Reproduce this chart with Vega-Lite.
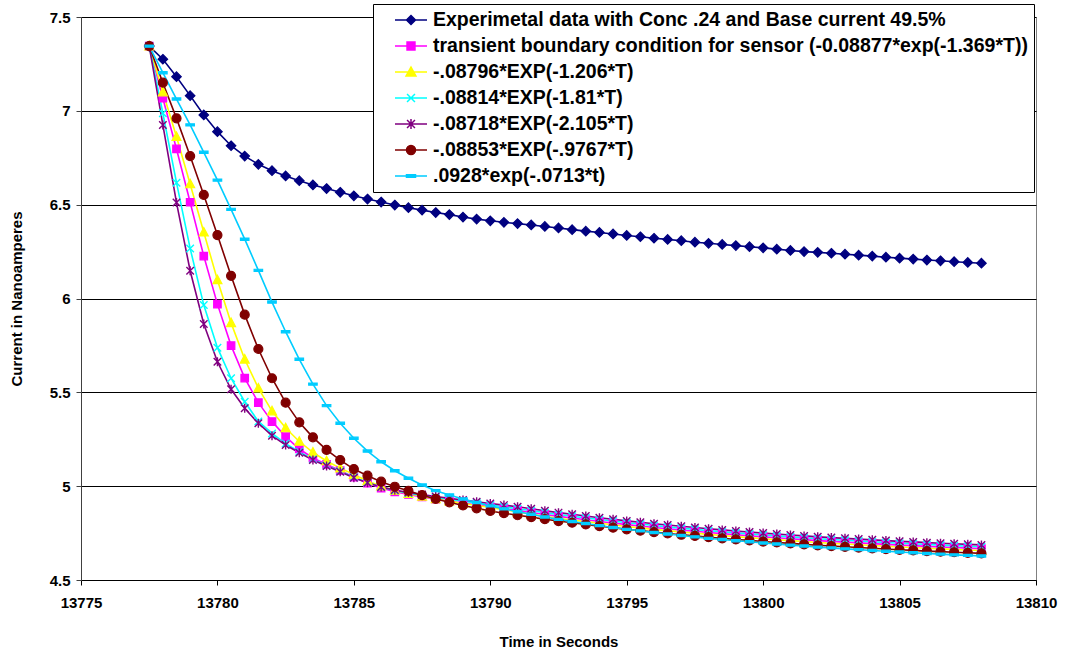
{
"$schema": "https://vega.github.io/schema/vega-lite/v6.json",
"width": 955, "height": 563,
"autosize": {"type": "none"},
"padding": {"left": 81, "top": 17, "right": 34, "bottom": 74},
"background": "white",
"config": {"view": {"stroke": "#808080", "strokeWidth": 1}, "font": "Liberation Sans"},
"data": {"values": [
{"t":13777.5,"a":7.345,"b":7.345,"c":7.345,"d":7.345,"e":7.345,"f":7.345,"g":7.345},
{"t":13778,"a":7.275,"b":7.067,"c":7.100,"d":6.987,"e":6.925,"f":7.150,"g":7.203},
{"t":13778.5,"a":7.182,"b":6.797,"c":6.862,"d":6.617,"e":6.511,"f":6.960,"g":7.063},
{"t":13779,"a":7.081,"b":6.513,"c":6.610,"d":6.267,"e":6.148,"f":6.759,"g":6.925},
{"t":13779.5,"a":6.978,"b":6.226,"c":6.353,"d":5.965,"e":5.864,"f":6.552,"g":6.779},
{"t":13780,"a":6.889,"b":5.970,"c":6.099,"d":5.738,"e":5.663,"f":6.338,"g":6.631},
{"t":13780.5,"a":6.814,"b":5.749,"c":5.870,"d":5.575,"e":5.516,"f":6.121,"g":6.475},
{"t":13781,"a":6.759,"b":5.576,"c":5.676,"d":5.450,"e":5.415,"f":5.914,"g":6.316},
{"t":13781.5,"a":6.715,"b":5.445,"c":5.522,"d":5.345,"e":5.335,"f":5.731,"g":6.150},
{"t":13782,"a":6.681,"b":5.344,"c":5.400,"d":5.281,"e":5.269,"f":5.575,"g":5.981},
{"t":13782.5,"a":6.653,"b":5.264,"c":5.310,"d":5.227,"e":5.219,"f":5.445,"g":5.823},
{"t":13783,"a":6.628,"b":5.198,"c":5.238,"d":5.184,"e":5.178,"f":5.340,"g":5.676},
{"t":13783.5,"a":6.605,"b":5.150,"c":5.180,"d":5.143,"e":5.139,"f":5.260,"g":5.544},
{"t":13784,"a":6.586,"b":5.116,"c":5.134,"d":5.110,"e":5.107,"f":5.193,"g":5.429},
{"t":13784.5,"a":6.566,"b":5.083,"c":5.096,"d":5.079,"e":5.077,"f":5.139,"g":5.335},
{"t":13785,"a":6.547,"b":5.048,"c":5.062,"d":5.047,"e":5.045,"f":5.091,"g":5.255},
{"t":13785.5,"a":6.530,"b":5.016,"c":5.028,"d":5.019,"e":5.018,"f":5.056,"g":5.187},
{"t":13786,"a":6.514,"b":4.990,"c":5.000,"d":4.995,"e":4.996,"f":5.024,"g":5.130},
{"t":13786.5,"a":6.498,"b":4.970,"c":4.977,"d":4.977,"e":4.979,"f":4.997,"g":5.082},
{"t":13787,"a":6.484,"b":4.956,"c":4.960,"d":4.963,"e":4.966,"f":4.975,"g":5.042},
{"t":13787.5,"a":6.471,"b":4.943,"c":4.946,"d":4.951,"e":4.955,"f":4.952,"g":5.006},
{"t":13788,"a":6.458,"b":4.931,"c":4.932,"d":4.940,"e":4.945,"f":4.932,"g":4.976},
{"t":13788.5,"a":6.447,"b":4.920,"c":4.920,"d":4.930,"e":4.935,"f":4.914,"g":4.953},
{"t":13789,"a":6.434,"b":4.910,"c":4.908,"d":4.920,"e":4.926,"f":4.897,"g":4.932},
{"t":13789.5,"a":6.423,"b":4.900,"c":4.897,"d":4.910,"e":4.917,"f":4.882,"g":4.913},
{"t":13790,"a":6.414,"b":4.890,"c":4.886,"d":4.900,"e":4.908,"f":4.868,"g":4.895},
{"t":13790.5,"a":6.406,"b":4.881,"c":4.875,"d":4.890,"e":4.899,"f":4.856,"g":4.879},
{"t":13791,"a":6.399,"b":4.871,"c":4.863,"d":4.880,"e":4.890,"f":4.845,"g":4.864},
{"t":13791.5,"a":6.392,"b":4.860,"c":4.850,"d":4.870,"e":4.880,"f":4.835,"g":4.850},
{"t":13792,"a":6.384,"b":4.849,"c":4.839,"d":4.859,"e":4.869,"f":4.824,"g":4.836},
{"t":13792.5,"a":6.376,"b":4.839,"c":4.829,"d":4.849,"e":4.859,"f":4.814,"g":4.823},
{"t":13793,"a":6.367,"b":4.830,"c":4.820,"d":4.840,"e":4.850,"f":4.805,"g":4.812},
{"t":13793.5,"a":6.359,"b":4.821,"c":4.811,"d":4.831,"e":4.841,"f":4.796,"g":4.801},
{"t":13794,"a":6.352,"b":4.812,"c":4.802,"d":4.822,"e":4.832,"f":4.787,"g":4.790},
{"t":13794.5,"a":6.344,"b":4.804,"c":4.794,"d":4.814,"e":4.824,"f":4.779,"g":4.780},
{"t":13795,"a":6.336,"b":4.795,"c":4.785,"d":4.805,"e":4.815,"f":4.770,"g":4.770},
{"t":13795.5,"a":6.329,"b":4.788,"c":4.778,"d":4.798,"e":4.808,"f":4.763,"g":4.762},
{"t":13796,"a":6.321,"b":4.780,"c":4.770,"d":4.790,"e":4.800,"f":4.755,"g":4.753},
{"t":13796.5,"a":6.315,"b":4.773,"c":4.763,"d":4.783,"e":4.793,"f":4.748,"g":4.745},
{"t":13797,"a":6.308,"b":4.766,"c":4.756,"d":4.776,"e":4.786,"f":4.741,"g":4.737},
{"t":13797.5,"a":6.300,"b":4.760,"c":4.750,"d":4.770,"e":4.780,"f":4.735,"g":4.730},
{"t":13798,"a":6.294,"b":4.753,"c":4.743,"d":4.763,"e":4.773,"f":4.728,"g":4.722},
{"t":13798.5,"a":6.288,"b":4.747,"c":4.737,"d":4.757,"e":4.767,"f":4.722,"g":4.716},
{"t":13799,"a":6.282,"b":4.741,"c":4.731,"d":4.751,"e":4.761,"f":4.716,"g":4.709},
{"t":13799.5,"a":6.276,"b":4.736,"c":4.726,"d":4.746,"e":4.756,"f":4.711,"g":4.704},
{"t":13800,"a":6.270,"b":4.730,"c":4.720,"d":4.740,"e":4.750,"f":4.705,"g":4.697},
{"t":13800.5,"a":6.263,"b":4.725,"c":4.715,"d":4.735,"e":4.745,"f":4.700,"g":4.692},
{"t":13801,"a":6.256,"b":4.720,"c":4.710,"d":4.730,"e":4.740,"f":4.695,"g":4.686},
{"t":13801.5,"a":6.250,"b":4.715,"c":4.705,"d":4.725,"e":4.735,"f":4.690,"g":4.681},
{"t":13802,"a":6.246,"b":4.710,"c":4.700,"d":4.720,"e":4.730,"f":4.685,"g":4.675},
{"t":13802.5,"a":6.241,"b":4.706,"c":4.696,"d":4.716,"e":4.726,"f":4.681,"g":4.671},
{"t":13803,"a":6.236,"b":4.702,"c":4.692,"d":4.712,"e":4.722,"f":4.677,"g":4.666},
{"t":13803.5,"a":6.231,"b":4.698,"c":4.688,"d":4.708,"e":4.718,"f":4.673,"g":4.662},
{"t":13804,"a":6.226,"b":4.694,"c":4.684,"d":4.704,"e":4.714,"f":4.669,"g":4.657},
{"t":13804.5,"a":6.220,"b":4.690,"c":4.680,"d":4.700,"e":4.710,"f":4.665,"g":4.653},
{"t":13805,"a":6.215,"b":4.686,"c":4.676,"d":4.696,"e":4.706,"f":4.661,"g":4.649},
{"t":13805.5,"a":6.210,"b":4.683,"c":4.673,"d":4.693,"e":4.703,"f":4.658,"g":4.645},
{"t":13806,"a":6.205,"b":4.679,"c":4.669,"d":4.689,"e":4.699,"f":4.654,"g":4.641},
{"t":13806.5,"a":6.201,"b":4.676,"c":4.666,"d":4.686,"e":4.696,"f":4.651,"g":4.638},
{"t":13807,"a":6.196,"b":4.673,"c":4.663,"d":4.683,"e":4.693,"f":4.648,"g":4.634},
{"t":13807.5,"a":6.192,"b":4.670,"c":4.660,"d":4.680,"e":4.690,"f":4.645,"g":4.631},
{"t":13808,"a":6.188,"b":4.667,"c":4.657,"d":4.677,"e":4.687,"f":4.642,"g":4.628}
]},
"transform": [{"fold": ["a","b","c","d","e","f","g"], "as": ["series","value"]}],
"encoding": {
  "x": {"field": "t", "type": "quantitative",
        "scale": {"domain": [13775, 13810], "nice": false, "zero": false},
        "axis": {"values": [13775,13780,13785,13790,13795,13800,13805,13810], "format": "d", "grid": false,
                 "domainColor": "#000000", "tickColor": "#000000", "tickSize": 5, "labelFlush": false, "labelOverlap": false,
                 "labelFontSize": 15, "labelFontWeight": "bold", "labelColor": "#000000", "labelPadding": 10,
                 "title": "Time in Seconds", "titleFontSize": 15, "titleFontWeight": "bold", "titleColor": "#000000", "titlePadding": 24}},
  "y": {"field": "value", "type": "quantitative",
        "scale": {"domain": [4.5, 7.5], "nice": false, "zero": false},
        "axis": {"values": [4.5,5,5.5,6,6.5,7,7.5], "format": "~g", "grid": true, "gridColor": "#000000", "gridWidth": 1,
                 "domainColor": "#404040", "tickColor": "#404040", "tickSize": 5, "labelOverlap": false, "labelFlush": false,
                 "labelFontSize": 15, "labelFontWeight": "bold", "labelColor": "#000000", "labelPadding": 6,
                 "title": "Current in Nanoamperes", "titleFontSize": 15, "titleFontWeight": "bold", "titleColor": "#000000", "titlePadding": 25}},
  "color": {"field": "series", "type": "nominal",
            "scale": {"domain": ["a","b","c","d","e","f","g"], "range": ["#000080","#FF00FF","#FFFF00","#00FFFF","#800080","#800000","#00CCFF"]},
            "legend": {"title": null, "orient": "none", "legendX": 292, "legendY": -13,
                       "labelFont": "Liberation Sans", "labelFontSize": 19.5, "labelFontWeight": "bold", "labelColor": "#000000", "labelLimit": 0,
                       "labelExpr": "{'a':'Experimetal data with Conc .24 and Base current 49.5%','b':'transient boundary condition for sensor (-0.08877*exp(-1.369*T))','c':'-.08796*EXP(-1.206*T)','d':'-.08814*EXP(-1.81*T)','e':'-.08718*EXP(-2.105*T)','f':'-.08853*EXP(-.9767*T)','g':'.0928*exp(-.0713*t)'}[datum.value]",
                       "symbolSize": 324, "symbolOffset": 22, "labelOffset": 12, "symbolStrokeWidth": 1.5,
                       "strokeColor": "#000000", "fillColor": "#FFFFFF", "padding": 6, "rowPadding": 6}}
},
"layer": [
  {"mark": {"type": "line", "strokeWidth": 1.6}},
  {"transform": [{"filter": "datum.series === 'a'"}],
   "mark": {"type": "point", "shape": "M0,-0.95L0.95,0L0,0.95L-0.95,0Z", "filled": true, "fill": "#000080", "stroke": "#000080", "size": 100, "strokeWidth": 1.2, "opacity": 1},
   "encoding": {"color": {"value": "#000080"}}},
  {"transform": [{"filter": "datum.series === 'b'"}],
   "mark": {"type": "point", "shape": "M-0.75,-0.75H0.75V0.75H-0.75Z", "filled": true, "fill": "#FF00FF", "stroke": "#FF00FF", "size": 100, "strokeWidth": 1.2, "opacity": 1},
   "encoding": {"color": {"value": "#FF00FF"}}},
  {"transform": [{"filter": "datum.series === 'c'"}],
   "mark": {"type": "point", "shape": "M0,-0.95L0.9,0.75H-0.9Z", "filled": true, "fill": "#FFFF00", "stroke": "#FFFF00", "size": 100, "strokeWidth": 1.2, "opacity": 1},
   "encoding": {"color": {"value": "#FFFF00"}}},
  {"transform": [{"filter": "datum.series === 'd'"}],
   "mark": {"type": "point", "shape": "M-0.75,-0.75L0.75,0.75M-0.75,0.75L0.75,-0.75", "filled": false, "stroke": "#00FFFF", "size": 100, "strokeWidth": 1.4, "opacity": 1},
   "encoding": {"color": {"value": "#00FFFF"}}},
  {"transform": [{"filter": "datum.series === 'e'"}],
   "mark": {"type": "point", "shape": "M-0.75,-0.75L0.75,0.75M-0.75,0.75L0.75,-0.75M0,-0.9V0.9", "filled": false, "stroke": "#800080", "size": 100, "strokeWidth": 1.4, "opacity": 1},
   "encoding": {"color": {"value": "#800080"}}},
  {"transform": [{"filter": "datum.series === 'f'"}],
   "mark": {"type": "point", "shape": "M0.9,0A0.9,0.9,0,1,1,-0.9,0A0.9,0.9,0,1,1,0.9,0Z", "filled": true, "fill": "#800000", "stroke": "#800000", "size": 100, "strokeWidth": 1.2, "opacity": 1},
   "encoding": {"color": {"value": "#800000"}}},
  {"transform": [{"filter": "datum.series === 'g'"}],
   "mark": {"type": "point", "shape": "M-0.85,-0.22H0.85V0.22H-0.85Z", "filled": true, "fill": "#00CCFF", "stroke": "#00CCFF", "size": 100, "strokeWidth": 1.2, "opacity": 1},
   "encoding": {"color": {"value": "#00CCFF"}}},
  {"mark": {"type": "point", "filled": true, "size": 0, "opacity": 1, "strokeWidth": 1.5},
   "encoding": {
     "shape": {"field": "series", "type": "nominal", "legend": null,
               "scale": {"domain": ["a","b","c","d","e","f","g"],
                         "range": ["M-1.78,0H1.78M0,-0.5L0.5,0L0,0.5L-0.5,0Z","M-1.78,0H1.78M-0.44,-0.44H0.44V0.44H-0.44Z","M-1.78,0H1.78M0,-0.55L0.55,0.45H-0.55Z","M-1.78,0H1.78M-0.44,-0.44L0.44,0.44M-0.44,0.44L0.44,-0.44","M-1.78,0H1.78M-0.44,-0.44L0.44,0.44M-0.44,0.44L0.44,-0.44M0,-0.55V0.55","M-1.78,0H1.78M0.5,0A0.5,0.5,0,1,1,-0.5,0A0.5,0.5,0,1,1,0.5,0Z","M-1.78,0H1.78M-0.5,-0.13H0.5V0.13H-0.5Z"]}},
     "stroke": {"field": "series", "type": "nominal", "legend": null,
                "scale": {"domain": ["a","b","c","d","e","f","g"], "range": ["#000080","#FF00FF","#FFFF00","#00FFFF","#800080","#800000","#00CCFF"]}}
   }}
]
}
